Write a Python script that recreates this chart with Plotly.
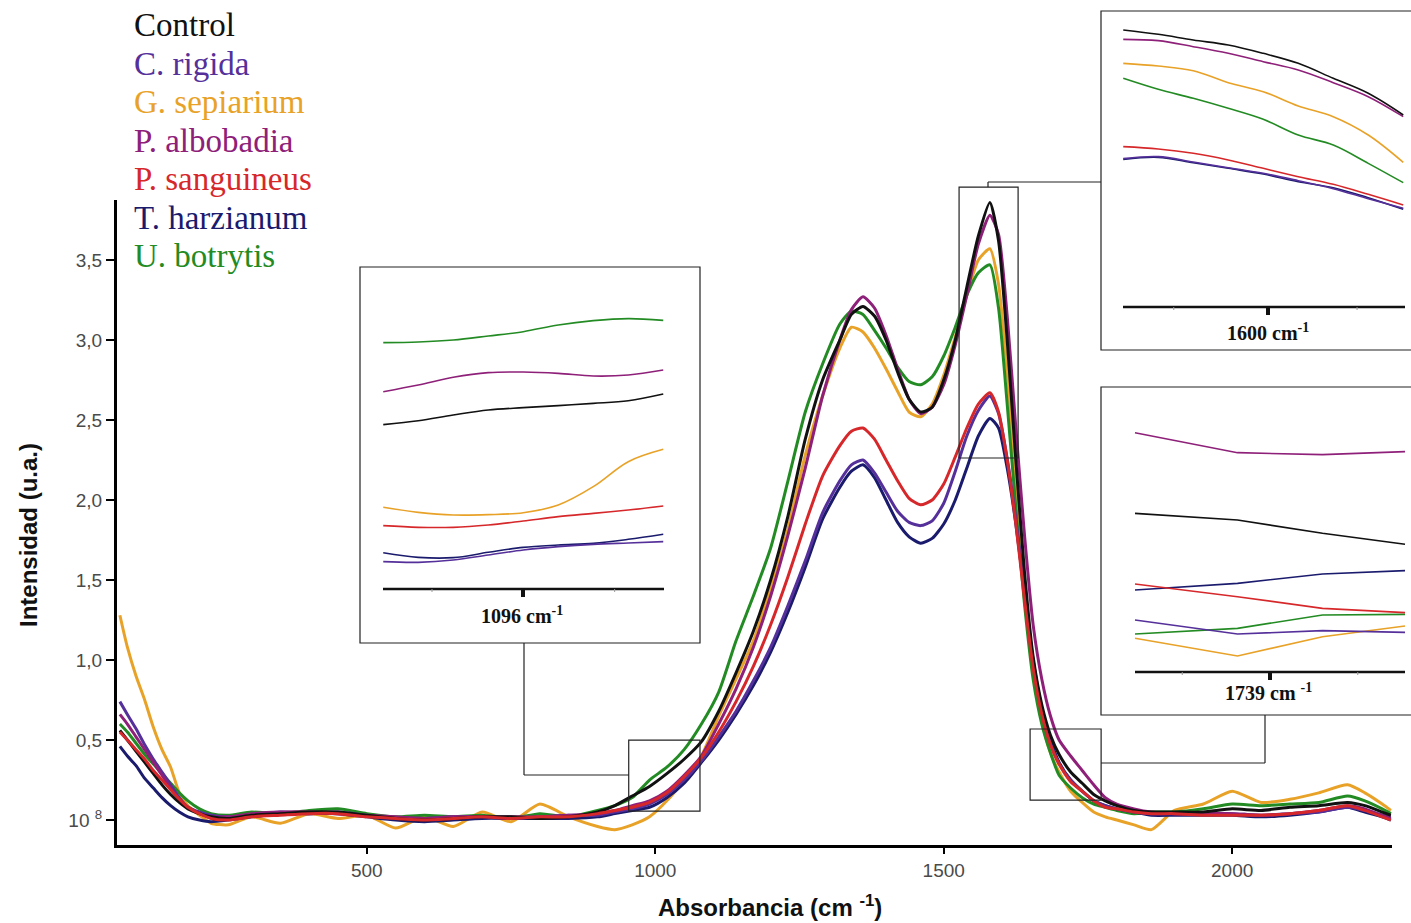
import plotly.graph_objects as go

W, H = 1411, 923

# ---------------- data ----------------
X_MAIN = [72, 85, 100, 115, 130, 145, 160, 175, 190, 210,
          230, 260, 300, 350, 400, 450, 500, 550, 600, 650,
          700, 750, 800, 850, 900, 930, 960, 990, 1020, 1050,
          1080, 1110, 1140, 1170, 1200, 1230, 1260, 1290, 1320, 1340,
          1360, 1380, 1400, 1420, 1440, 1460, 1480, 1500, 1520, 1540,
          1560, 1580, 1595, 1610, 1625, 1640, 1655, 1670, 1685, 1700,
          1720, 1740, 1760, 1780, 1800, 1830, 1860, 1900, 1950, 2000,
          2050, 2100, 2150, 2200, 2230, 2260, 2275]

CONTROL = [0.56, 0.50, 0.43, 0.36, 0.29, 0.22, 0.16, 0.11, 0.07, 0.04,
           0.02, 0.01, 0.03, 0.04, 0.05, 0.05, 0.03, 0.01, 0.00, 0.01,
           0.02, 0.02, 0.01, 0.02, 0.05, 0.09, 0.15, 0.21, 0.29, 0.38,
           0.49, 0.68, 0.92, 1.18, 1.50, 1.90, 2.38, 2.75, 3.00, 3.16,
           3.21, 3.15, 3.00, 2.80, 2.63, 2.55, 2.58, 2.75, 3.00, 3.33,
           3.65, 3.86, 3.62, 3.00, 2.25, 1.55, 1.02, 0.72, 0.53, 0.41,
           0.30, 0.23, 0.16, 0.12, 0.09, 0.06, 0.05, 0.05, 0.05, 0.07,
           0.06, 0.08, 0.09, 0.11, 0.09, 0.05, 0.03]

C_RIGIDA = [0.74, 0.66, 0.57, 0.47, 0.38, 0.30, 0.22, 0.14, 0.08, 0.05,
            0.03, 0.02, 0.03, 0.05, 0.04, 0.05, 0.03, 0.01, 0.01, 0.02,
            0.02, 0.01, 0.02, 0.03, 0.03, 0.05, 0.07, 0.10, 0.16, 0.25,
            0.37, 0.52, 0.68, 0.87, 1.08, 1.34, 1.62, 1.92, 2.12, 2.22,
            2.25, 2.17, 2.05, 1.93, 1.86, 1.84, 1.87, 1.98, 2.18, 2.40,
            2.56, 2.65, 2.54, 2.26, 1.88, 1.42, 0.98, 0.68, 0.48, 0.35,
            0.25, 0.18, 0.12, 0.09, 0.07, 0.05, 0.04, 0.04, 0.04, 0.04,
            0.03, 0.04, 0.05, 0.08, 0.06, 0.03, 0.01]

G_SEPIARIUM = [1.28, 1.08, 0.90, 0.75, 0.58, 0.44, 0.33, 0.17, 0.09, 0.03,
               -0.02, -0.03, 0.02, -0.02, 0.04, 0.01, 0.03, -0.05, 0.02, -0.04,
               0.05, -0.01, 0.10, 0.02, -0.04, -0.06, -0.03, 0.02, 0.12, 0.25,
               0.40, 0.65, 0.88, 1.12, 1.45, 1.82, 2.28, 2.65, 2.95, 3.08,
               3.05, 2.95, 2.82, 2.68, 2.55, 2.52, 2.60, 2.78, 3.02, 3.28,
               3.50, 3.57, 3.35, 2.80, 2.10, 1.45, 0.95, 0.62, 0.42, 0.30,
               0.18, 0.11, 0.05, 0.02, 0.00, -0.03, -0.06, 0.06, 0.10, 0.18,
               0.11, 0.13, 0.17, 0.22, 0.17, 0.10, 0.06]

P_ALBOBADIA = [0.66, 0.60, 0.52, 0.44, 0.36, 0.28, 0.20, 0.13, 0.08, 0.04,
               0.02, 0.02, 0.04, 0.05, 0.05, 0.04, 0.03, 0.02, 0.01, 0.02,
               0.02, 0.02, 0.02, 0.03, 0.04, 0.06, 0.09, 0.12, 0.18, 0.28,
               0.40, 0.60, 0.82, 1.08, 1.40, 1.78, 2.20, 2.65, 3.00, 3.19,
               3.27, 3.20, 3.03, 2.82, 2.63, 2.54, 2.58, 2.72, 2.97, 3.28,
               3.60, 3.78, 3.66, 3.15, 2.45, 1.78, 1.22, 0.88, 0.65, 0.50,
               0.40, 0.31, 0.22, 0.14, 0.10, 0.07, 0.05, 0.04, 0.04, 0.04,
               0.03, 0.04, 0.06, 0.09, 0.07, 0.03, 0.02]

P_SANGUINEUS = [0.55, 0.50, 0.44, 0.38, 0.31, 0.25, 0.19, 0.13, 0.08, 0.04,
                0.01, 0.00, 0.02, 0.03, 0.04, 0.04, 0.02, 0.01, 0.00, 0.01,
                0.02, 0.01, 0.02, 0.02, 0.04, 0.06, 0.08, 0.11, 0.17, 0.27,
                0.39, 0.55, 0.74, 0.96, 1.22, 1.52, 1.85, 2.15, 2.34, 2.43,
                2.45, 2.38, 2.25, 2.12, 2.01, 1.97, 2.00, 2.10, 2.27, 2.45,
                2.60, 2.67, 2.55, 2.25, 1.85, 1.38, 0.95, 0.66, 0.47, 0.35,
                0.24, 0.18, 0.12, 0.08, 0.07, 0.05, 0.04, 0.04, 0.03, 0.03,
                0.03, 0.04, 0.06, 0.09, 0.06, 0.02, 0.00]

T_HARZIANUM = [0.46, 0.40, 0.34, 0.26, 0.20, 0.14, 0.09, 0.05, 0.02, 0.00,
               -0.01, 0.00, 0.02, 0.04, 0.04, 0.04, 0.02, 0.00, -0.01, 0.00,
               0.01, 0.01, 0.01, 0.01, 0.02, 0.04, 0.06, 0.08, 0.14, 0.23,
               0.36, 0.50, 0.66, 0.84, 1.05, 1.30, 1.58, 1.88, 2.08, 2.18,
               2.22, 2.14, 2.00, 1.86, 1.77, 1.73, 1.76, 1.85, 2.00, 2.20,
               2.40, 2.51, 2.45, 2.20, 1.85, 1.42, 1.00, 0.70, 0.50, 0.36,
               0.25, 0.18, 0.12, 0.09, 0.07, 0.05, 0.03, 0.03, 0.03, 0.03,
               0.02, 0.03, 0.05, 0.08, 0.05, 0.02, 0.00]

U_BOTRYTIS = [0.60, 0.55, 0.48, 0.41, 0.35, 0.29, 0.23, 0.17, 0.12, 0.07,
              0.04, 0.03, 0.05, 0.04, 0.06, 0.07, 0.04, 0.02, 0.03, 0.02,
              0.03, 0.01, 0.04, 0.02, 0.06, 0.09, 0.14, 0.25, 0.33, 0.44,
              0.60, 0.80, 1.12, 1.40, 1.70, 2.12, 2.55, 2.85, 3.10, 3.18,
              3.16, 3.06, 2.95, 2.83, 2.74, 2.72, 2.77, 2.90, 3.08, 3.28,
              3.42, 3.47, 3.20, 2.60, 1.95, 1.35, 0.88, 0.60, 0.42, 0.28,
              0.20, 0.14, 0.10, 0.08, 0.06, 0.04, 0.05, 0.05, 0.07, 0.10,
              0.09, 0.10, 0.11, 0.15, 0.12, 0.07, 0.04]

SERIES_NAMES = ["Control", "C. rigida", "G. sepiarium", "P. albobadia",
                "P. sanguineus", "T. harzianum", "U. botrytis"]
SERIES_COLORS = ["#111111", "#55309a", "#e8a228", "#8e2079",
                 "#d6282b", "#1b1b6e", "#238b23"]

X_TICKS = [500, 1000, 1500, 2000]
Y_TICKS = [0, 0.5, 1.0, 1.5, 2.0, 2.5, 3.0, 3.5]
Y_TICK_TEXT = ["10 <sup>8</sup>", "0,5", "1,0", "1,5", "2,0", "2,5", "3,0", "3,5"]

# inset curves (relative intensity)
INSET_1096_X = [1040, 1054, 1068, 1082, 1096, 1110, 1124, 1138, 1152]
INSET_1096 = {
    "Control":       [50.6, 51.8, 53.5, 55.0, 55.7, 56.3, 57.0, 57.8, 59.8],
    "C. rigida":     [9.5, 9.3, 10.0, 11.5, 13.0, 14.0, 14.7, 15.1, 15.5],
    "G. sepiarium":  [25.8, 24.3, 23.5, 23.6, 24.2, 26.5, 32.0, 39.5, 43.2],
    "P. albobadia":  [60.5, 62.5, 64.8, 66.2, 66.4, 66.0, 65.2, 65.5, 67.0],
    "P. sanguineus": [20.3, 19.8, 19.8, 20.5, 21.7, 23.0, 24.0, 25.0, 26.2],
    "T. harzianum":  [12.2, 10.8, 10.7, 12.3, 13.8, 14.5, 15.0, 16.2, 17.7],
    "U. botrytis":   [75.2, 75.4, 76.0, 77.2, 78.5, 80.5, 81.8, 82.4, 81.9],
}
INSET_1600_X = [1542, 1556, 1570, 1584, 1598, 1612, 1626, 1640, 1654]
INSET_1600 = {
    "Control":       [91.0, 89.7, 88.0, 86.5, 84.0, 81.0, 76.5, 72.0, 65.5],
    "C. rigida":     [52.4, 53.0, 51.4, 49.7, 48.0, 45.8, 43.4, 40.4, 37.5],
    "G. sepiarium":  [81.0, 80.2, 78.8, 75.2, 72.5, 68.2, 65.0, 59.5, 51.3],
    "P. albobadia":  [88.2, 87.8, 86.0, 84.0, 81.5, 79.0, 75.2, 71.0, 65.0],
    "P. sanguineus": [56.0, 55.3, 54.0, 52.0, 49.5, 47.0, 44.7, 41.7, 38.5],
    "T. harzianum":  [52.2, 52.8, 51.2, 49.5, 47.8, 45.5, 43.7, 40.7, 37.2],
    "U. botrytis":   [76.5, 73.2, 70.5, 67.5, 64.2, 59.5, 56.5, 51.0, 45.2],
}
INSET_1739_X = [1685, 1726, 1760, 1793]
INSET_1739 = {
    "Control":       [60.0, 58.0, 54.0, 50.7],
    "C. rigida":     [28.0, 23.8, 24.8, 24.3],
    "G. sepiarium":  [22.5, 17.2, 23.0, 26.2],
    "P. albobadia":  [84.2, 78.2, 77.6, 78.5],
    "P. sanguineus": [38.8, 35.0, 31.5, 30.2],
    "T. harzianum":  [37.0, 39.0, 41.8, 42.8],
    "U. botrytis":   [23.8, 25.5, 29.5, 29.7],
}

# ---------------- layout helpers ----------------
def fx(px):
    return px / W


def fy(py):
    return 1 - py / H


X_RANGE = [67, 2277]
Y_RANGE = [-0.156, 3.875]
X_DOM = [fx(117), fx(1392)]
Y_DOM = [fy(845), fy(200)]


def dx(v):
    return X_DOM[0] + (v - X_RANGE[0]) / (X_RANGE[1] - X_RANGE[0]) * (X_DOM[1] - X_DOM[0])


def dy(v):
    return Y_DOM[0] + (v - Y_RANGE[0]) / (Y_RANGE[1] - Y_RANGE[0]) * (Y_DOM[1] - Y_DOM[0])


MAIN = dict(zip(SERIES_NAMES, [CONTROL, C_RIGIDA, G_SEPIARIUM, P_ALBOBADIA,
                               P_SANGUINEUS, T_HARZIANUM, U_BOTRYTIS]))
COLOR = dict(zip(SERIES_NAMES, SERIES_COLORS))
DRAW_ORDER = ["G. sepiarium", "U. botrytis", "T. harzianum", "C. rigida",
              "P. albobadia", "Control", "P. sanguineus"]

fig = go.Figure()
for name in DRAW_ORDER:
    fig.add_trace(go.Scatter(
        x=X_MAIN, y=MAIN[name], mode="lines", name=name,
        line=dict(color=COLOR[name], width=3, shape="spline", smoothing=0.6),
        xaxis="x", yaxis="y", showlegend=False, hoverinfo="skip"))

for ax, xs, data, shp in [("2", INSET_1096_X, INSET_1096, "spline"),
                          ("3", INSET_1600_X, INSET_1600, "spline"),
                          ("4", INSET_1739_X, INSET_1739, "linear")]:
    for name in DRAW_ORDER:
        fig.add_trace(go.Scatter(
            x=xs, y=data[name], mode="lines",
            line=dict(color=COLOR[name], width=1.6, shape=shp),
            xaxis="x" + ax, yaxis="y" + ax, showlegend=False, hoverinfo="skip"))

TICKFONT = dict(family="Liberation Sans, Arial, sans-serif", size=19, color="#4a4a4a")
inset_ax = dict(visible=False, showgrid=False, zeroline=False, fixedrange=True)

fig.update_layout(
    width=W, height=H, autosize=False,
    margin=dict(l=0, r=0, t=0, b=0),
    paper_bgcolor="white", plot_bgcolor="white",
    xaxis=dict(domain=X_DOM, range=X_RANGE, showline=True, linecolor="black",
               linewidth=3, ticks="outside", ticklen=6, tickwidth=2,
               tickcolor="black", tickvals=X_TICKS, tickfont=TICKFONT,
               showgrid=False, zeroline=False, anchor="y"),
    yaxis=dict(domain=Y_DOM, range=Y_RANGE, showline=True, linecolor="black",
               linewidth=3, ticks="outside", ticklen=8, tickwidth=2,
               tickcolor="black", tickvals=Y_TICKS, ticktext=Y_TICK_TEXT,
               tickfont=TICKFONT, showgrid=False, zeroline=False, anchor="x"),
    xaxis2=dict(domain=[fx(360), fx(700)], range=[1030.7, 1166.7], anchor="y2", **inset_ax),
    yaxis2=dict(domain=[fy(643), fy(267)], range=[-14.9, 97.9], anchor="x2", **inset_ax),
    xaxis3=dict(domain=[fx(1101), 1.0], range=[1533.1, 1657.1], anchor="y3", **inset_ax),
    yaxis3=dict(domain=[fy(350), fy(11)], range=[-5.0, 96.7], anchor="x3", **inset_ax),
    xaxis4=dict(domain=[fx(1101), 1.0], range=[1671.4, 1795.4], anchor="y4", **inset_ax),
    yaxis4=dict(domain=[fy(715), fy(387)], range=[-0.5, 97.9], anchor="x4", **inset_ax),
)

shapes = []


def pline(x0, y0, x1, y1, w=1.2, color="#222222"):
    shapes.append(dict(type="line", xref="paper", yref="paper",
                       x0=fx(x0), y0=fy(y0), x1=fx(x1), y1=fy(y1),
                       line=dict(color=color, width=w)))


def prect(x0, y0, x1, y1, w=1.2):
    shapes.append(dict(type="rect", xref="paper", yref="paper",
                       x0=fx(x0), y0=fy(y0), x1=fx(x1), y1=fy(y1),
                       line=dict(color="#222222", width=w), fillcolor="rgba(0,0,0,0)"))


# zoom boxes on the main spectrum (data units)
ZOOM_BOXES = [(954, 0.056, 1077.5, 0.5), (1526.6, 2.2625, 1628.9, 3.956),
              (1649.7, 0.125, 1772.8, 0.569)]
for (a, b, c, d) in ZOOM_BOXES:
    shapes.append(dict(type="rect", xref="paper", yref="paper",
                       x0=dx(a), y0=dy(b), x1=dx(c), y1=dy(d),
                       line=dict(color="#222222", width=1.2), fillcolor="rgba(0,0,0,0)"))

# inset frames
prect(360, 267, 700, 643)
prect(1101, 11, 1425, 350)
prect(1101, 387, 1425, 715)

# connectors
pline(629, 775, 524, 775)
pline(524, 775, 524, 643)
pline(988, 187, 988, 182)
pline(988, 182, 1101, 182)
pline(1101, 763, 1265, 763)
pline(1265, 763, 1265, 715)

# inset inner axes
for (xa, xb, ya, xt) in [(383, 664, 589, 523), (1123, 1405, 307, 1268), (1135, 1405, 672, 1270)]:
    pline(xa, ya, xb, ya, w=2.5, color="#111111")
    pline(xt, ya, xt, ya + 8, w=4, color="#111111")
    for m in (xa + (xt - xa) * 0.35, xt + (xb - xt) * 0.65):
        pline(m, ya, m, ya + 3, w=1, color="#999999")

fig.update_layout(shapes=shapes)

ann = []
SERIF = "Liberation Serif, Times New Roman, serif"
for i, name in enumerate(SERIES_NAMES):
    ann.append(dict(xref="paper", yref="paper", x=fx(132), y=fy(25 + 38.5 * i),
                    xanchor="left", yanchor="middle", showarrow=False, text=name,
                    font=dict(family=SERIF, size=33, color=COLOR[name])))

for txt, px, py in [("<b>1096 cm<sup>-1</sup></b>", 522, 615),
                    ("<b>1600 cm<sup>-1</sup></b>", 1268, 332),
                    ("<b>1739 cm <sup>-1</sup></b>", 1268, 692)]:
    ann.append(dict(xref="paper", yref="paper", x=fx(px), y=fy(py),
                    xanchor="center", yanchor="middle", showarrow=False, text=txt,
                    font=dict(family=SERIF, size=20, color="#111111")))

ann.append(dict(xref="paper", yref="paper", x=fx(28), y=fy(535), textangle=-90,
                xanchor="center", yanchor="middle", showarrow=False,
                text="<b>Intensidad (u.a.)</b>",
                font=dict(family="Liberation Sans, Arial, sans-serif", size=24, color="#111111")))
ann.append(dict(xref="paper", yref="paper", x=fx(770), y=fy(906),
                xanchor="center", yanchor="middle", showarrow=False,
                text="<b>Absorbancia (cm <sup>-1</sup>)</b>",
                font=dict(family="Liberation Sans, Arial, sans-serif", size=24, color="#111111")))

fig.update_layout(annotations=ann)

fig.write_html("out.html")
